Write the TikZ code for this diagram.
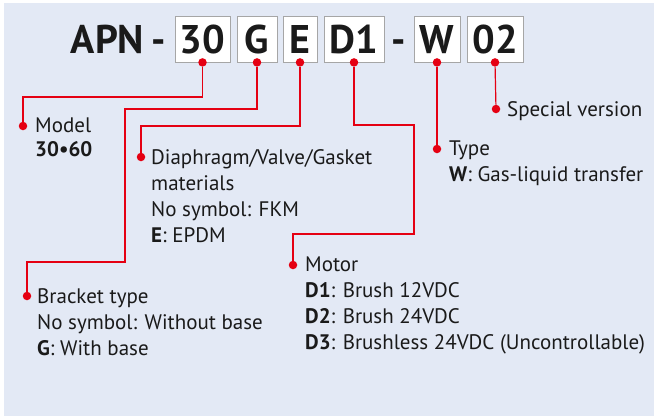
\documentclass[tikz,border=0pt]{standalone}
\usepackage{fontspec}
\setmainfont{PT Sans}
\usetikzlibrary{calc,positioning}
\definecolor{paper}{HTML}{E3E9F5}
\definecolor{wire}{HTML}{E50012}
\definecolor{frame}{HTML}{A6A6A6}
\definecolor{ink}{HTML}{1A1A1A}

\begin{document}
\begin{tikzpicture}[x=1pt, y=-1pt, font=\fontsize{21}{26}\selectfont, text=ink,
  code/.style={draw=frame, line width=0.8pt, fill=white, minimum height=46pt, inner sep=0pt,
               text height=29pt, text depth=0pt, font=\fontsize{40}{40}\selectfont\bfseries},
  plain/.style={inner sep=0pt, anchor=base, font=\fontsize{40}{40}\selectfont\bfseries},
  lead/.style={draw=wire, line width=1.2pt},
  pin/.style={circle, fill=wire, inner sep=0pt, minimum size=8.5pt},
  lbl/.style={anchor=north west, inner sep=0pt, align=left}]
\useasboundingbox (0,0) rectangle (655,418);
\fill[paper] (4,3) rectangle (654,416);
% ---------------- part number
\node[plain] (apn) at (107.5,53.5) {APN};
\node[plain] (dash1) at (158.5,53.5) {-};
\node[code, minimum width=55pt] (b30) at (202.5,39) {30};
\node[code, minimum width=40pt] (bG) at (257,39) {G};
\node[code, minimum width=34pt] (bE) at (300,39) {E};
\node[code, minimum width=60pt] (bD1) at (354,39) {D1};
\node[plain] (dash2) at (398.5,53.5) {-};
\node[code, minimum width=46pt] (bW) at (437,39) {W};
\node[code, minimum width=56pt] (b02) at (495,39) {02};
\foreach \b in {30,G,E,D1,W,02} {\node[pin] (p\b) at (b\b.south) {};}
% ---------------- label pins
\node[pin] (dModel) at (23,126) {};
\node[pin] (dDia) at (141,157) {};
\node[pin] (dBracket) at (27,296) {};
\node[pin] (dMotor) at (293,265) {};
\node[pin] (dType) at (437,149) {};
\node[pin] (dSpecial) at (496,109) {};
% ---------------- leads
\coordinate (m1) at (23,97);
\coordinate (g1) at (125,109);
\coordinate (g2) at (27,262);
\coordinate (e1) at (141,126);
\coordinate (d1) at (414,125);
\coordinate (d2) at (293,234);
\draw[lead] (p30) |- (m1) -- (dModel);
\draw[lead] (pG) |- (g1) |- (g2) -- (dBracket);
\draw[lead] (pE) |- (e1) -- (dDia);
\draw[lead] (pD1) |- (d1) |- (d2) -- (dMotor);
\draw[lead] (pW) -- (dType);
\draw[lead] (p02) -- (dSpecial);
% ---------------- labels
\node[lbl] (tModel) at ($(dModel)+(12,-8)$) {Model\\[-2pt]\textbf{30\textbullet60}};
\node[lbl] (tDia) at ($(dDia)+(10,-8)$)
  {Diaphragm/Valve/Gasket\\materials\\No symbol: FKM\\\textbf{E}: EPDM};
\node[lbl] (tBracket) at ($(dBracket)+(10,-8)$)
  {Bracket type\\No symbol: Without base\\\textbf{G}: With base};
\node[lbl] (tMotor) at ($(dMotor)+(12,-8)$)
  {Motor\\\textbf{D1}: Brush 12VDC\\\textbf{D2}: Brush 24VDC\\\textbf{D3}: Brushless 24VDC (Uncontrollable)};
\node[lbl] (tType) at ($(dType)+(12,-8)$) {Type\\\textbf{W}: Gas-liquid transfer};
\node[lbl] (tSpecial) at ($(dSpecial)+(11,-8)$) {Special version};
\end{tikzpicture}
\end{document}
